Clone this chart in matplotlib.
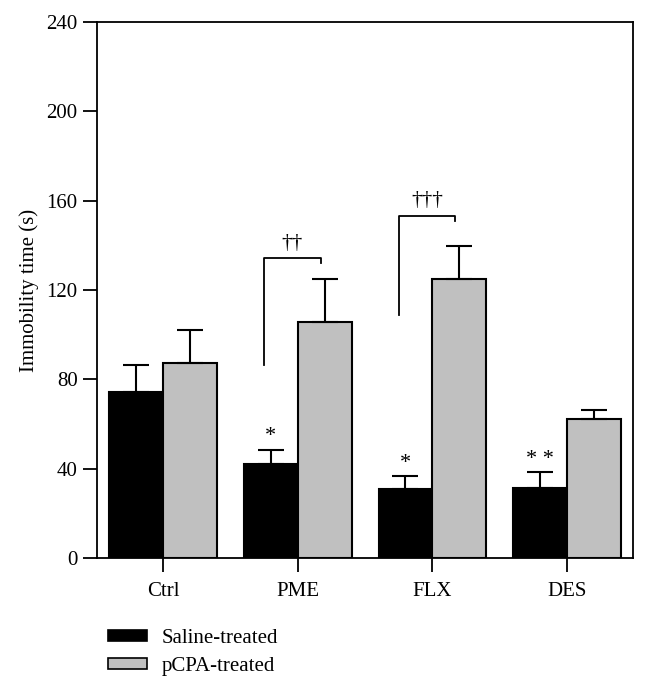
import numpy as np
import matplotlib.pyplot as plt
from matplotlib.patches import Patch

# data
groups = ['Ctrl', 'PME', 'FLX', 'DES']
saline = [74.2, 42.0, 31.0, 31.5]
saline_err = [12.2, 6.5, 5.7, 7.0]
pcpa = [87.5, 105.5, 124.8, 62.2]
pcpa_err = [14.5, 19.5, 15.0, 4.2]
star_marks = ['', '*', '*', '* *']
dagger_marks = ['', '††', '†††', '']
# bracket: (left bottom, top) for groups with daggers
bracket_lo = [None, 86.4, 108.8, None]
bracket_hi = [None, 134.2, 153.3, None]

plt.rcParams['font.family'] = ['Liberation Serif', 'DejaVu Serif']

fig = plt.figure(figsize=(6.48, 6.91), dpi=100)
ax = fig.add_axes([0.1497, 0.1925, 0.8273, 0.7757])

x = np.arange(len(groups))
w = 0.4
ax.bar(x - w/2, saline, w, color='black', edgecolor='black', linewidth=1.5, zorder=2)
ax.bar(x + w/2, pcpa, w, color='#c0c0c0', edgecolor='black', linewidth=1.5, zorder=2)
ax.errorbar(x - w/2, saline, yerr=[np.zeros(4), saline_err], fmt='none',
            ecolor='black', elinewidth=1.5, capsize=9.5, capthick=1.5, zorder=3)
ax.errorbar(x + w/2, pcpa, yerr=[np.zeros(4), pcpa_err], fmt='none',
            ecolor='black', elinewidth=1.5, capsize=9.5, capthick=1.5, zorder=3)

for i in range(len(groups)):
    if star_marks[i]:
        ax.text(x[i] - w/2, saline[i] + saline_err[i] + 1.5, star_marks[i],
                ha='center', va='bottom', fontsize=16)
    if dagger_marks[i]:
        xl = x[i] - 0.25
        xr = x[i] + 0.17
        lo = bracket_lo[i]
        hi = bracket_hi[i]
        ax.plot([xl, xl, xr, xr], [lo, hi, hi, hi - 2.2], color='black', lw=1.3)
        ax.text((xl + xr) / 2, hi + 2.5, dagger_marks[i], ha='center', va='bottom', fontsize=15.5)

ax.set_xlim(-0.49, 3.49)
ax.set_ylim(0, 240)
ax.set_yticks(np.arange(0, 241, 40))
ax.set_xticks(x)
ax.set_xticklabels(groups)
ax.tick_params(axis='both', direction='out', length=10, width=1.3, labelsize=15, pad=4)
ax.tick_params(axis='x', pad=7)
for s in ax.spines.values():
    s.set_linewidth(1.3)
ax.set_ylabel('Immobility time (s)', fontsize=15, labelpad=5)

handles = [Patch(facecolor='black', edgecolor='black', linewidth=1.2, label='Saline-treated'),
           Patch(facecolor='#c0c0c0', edgecolor='black', linewidth=1.2, label='pCPA-treated')]
fig.legend(handles=handles, loc='upper left', bbox_to_anchor=(0.167, 0.090), frameon=False,
           fontsize=15, handlelength=1.85, handleheight=0.45, handletextpad=0.7,
           labelspacing=0.45, borderaxespad=0, borderpad=0)

fig.savefig('out.png', dpi=100)
